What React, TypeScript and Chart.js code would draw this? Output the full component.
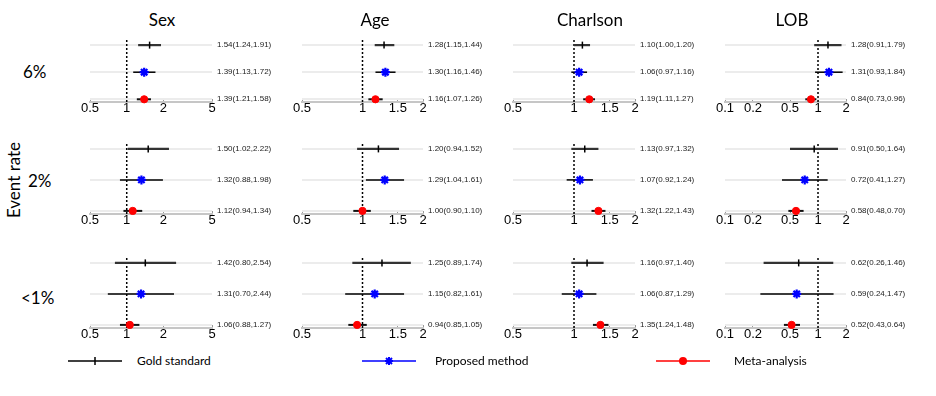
import React, { useEffect, useRef } from "react";
import { Chart, registerables } from "chart.js";

Chart.register(...registerables);

// ---------- data ----------
const COLUMN_TITLES = ["Sex", "Age", "Charlson", "LOB"];
const ROW_LABELS = ["6%", "2%", "<1%"];
const SERIES_NAMES = ["Gold standard", "Proposed method", "Meta-analysis"];
const Y_AXIS_TITLE = "Event rate";

// [estimate, lower, upper] for rows 6%, 2%, <1%
const SEX_GOLD = [[1.54, 1.24, 1.91], [1.50, 1.02, 2.22], [1.42, 0.80, 2.54]];
const SEX_PROPOSED = [[1.39, 1.13, 1.72], [1.32, 0.88, 1.98], [1.31, 0.70, 2.44]];
const SEX_META = [[1.39, 1.21, 1.58], [1.12, 0.94, 1.34], [1.06, 0.88, 1.27]];

const AGE_GOLD = [[1.28, 1.15, 1.44], [1.20, 0.94, 1.52], [1.25, 0.89, 1.74]];
const AGE_PROPOSED = [[1.30, 1.16, 1.46], [1.29, 1.04, 1.61], [1.15, 0.82, 1.61]];
const AGE_META = [[1.16, 1.07, 1.26], [1.00, 0.90, 1.10], [0.94, 0.85, 1.05]];

const CHARLSON_GOLD = [[1.10, 1.00, 1.20], [1.13, 0.97, 1.32], [1.16, 0.97, 1.40]];
const CHARLSON_PROPOSED = [[1.06, 0.97, 1.16], [1.07, 0.92, 1.24], [1.06, 0.87, 1.29]];
const CHARLSON_META = [[1.19, 1.11, 1.27], [1.32, 1.22, 1.43], [1.35, 1.24, 1.48]];

const LOB_GOLD = [[1.28, 0.91, 1.79], [0.91, 0.50, 1.64], [0.62, 0.26, 1.46]];
const LOB_PROPOSED = [[1.31, 0.93, 1.84], [0.72, 0.41, 1.27], [0.59, 0.24, 1.47]];
const LOB_META = [[0.84, 0.73, 0.96], [0.58, 0.48, 0.70], [0.52, 0.43, 0.64]];

const SEX_TICKS = [0.5, 1, 2, 5];
const AGE_TICKS = [0.5, 1, 1.5, 2];
const CHARLSON_TICKS = [0.5, 1, 1.5, 2];
const LOB_TICKS = [0.1, 0.2, 0.5, 1, 2];

const REFERENCE_VALUE = 1;

const COLUMN_DATA = [
  { gold: SEX_GOLD, proposed: SEX_PROPOSED, meta: SEX_META, ticks: SEX_TICKS },
  { gold: AGE_GOLD, proposed: AGE_PROPOSED, meta: AGE_META, ticks: AGE_TICKS },
  { gold: CHARLSON_GOLD, proposed: CHARLSON_PROPOSED, meta: CHARLSON_META, ticks: CHARLSON_TICKS },
  { gold: LOB_GOLD, proposed: LOB_PROPOSED, meta: LOB_META, ticks: LOB_TICKS },
];

// ---------- layout / style ----------
const W = 936;
const H = 396;
const FONT = "Lato, 'Open Sans', sans-serif";
const SMALL_FONT = "'Liberation Sans', Arial, sans-serif";

const COL_LEFT = [90, 302, 513, 725];
const COL_RIGHT = [212, 423, 635, 846];
const ROW_TOP = [37, 140, 254];
const ROW_BOTTOM = [102, 214, 328];
const Y_MIN = 0.9;
const Y_MAX = 3.2;
const PAD_L = 20;
const PAD_T = 4;
const X_AXIS_H = 24;
const Y_AXIS_W = 80;

const fmt = (t: number[]) => `${t[0].toFixed(2)}(${t[1].toFixed(2)},${t[2].toFixed(2)})`;

function Panel({ col, row }: { col: number; row: number }) {
  const ref = useRef<HTMLCanvasElement | null>(null);
  const plotW = COL_RIGHT[col] - COL_LEFT[col];
  const plotH = ROW_BOTTOM[row] - ROW_TOP[row];
  const cw = PAD_L + plotW + Y_AXIS_W;
  const ch = PAD_T + plotH + X_AXIS_H;
  const left = COL_LEFT[col] - PAD_L;
  const top = ROW_TOP[row] - PAD_T;

  useEffect(() => {
    const d = COLUMN_DATA[col];
    const gold = d.gold[row];
    const prop = d.proposed[row];
    const meta = d.meta[row];
    const ticks = d.ticks;
    // y positions: 3 = gold, 2 = proposed, 1 = meta
    const labels: Record<number, string> = { 3: fmt(gold), 2: fmt(prop), 1: fmt(meta) };

    const chart = new Chart(ref.current as HTMLCanvasElement, {
      type: "scatter",
      data: {
        datasets: [
          {
            data: [{ x: meta[0], y: 1 }],
            pointStyle: "circle",
            pointRadius: 3.6,
            backgroundColor: "#ff0000",
            borderColor: "#ff0000",
            borderWidth: 1,
            clip: false,
          },
          {
            data: [{ x: prop[0], y: 2 }],
            pointStyle: "star",
            pointRadius: 4.5,
            backgroundColor: "#0000ff",
            borderColor: "#0000ff",
            borderWidth: 2.2,
            clip: false,
          },
          {
            data: [{ x: gold[0], y: 3 }],
            pointStyle: "line",
            pointRotation: 90,
            pointRadius: 3.5,
            borderColor: "#000000",
            borderWidth: 1.5,
            clip: false,
          },
          {
            data: [{ x: meta[1], y: 1 }, { x: meta[2], y: 1 }],
            showLine: true,
            pointRadius: 0,
            borderColor: "#111111",
            borderWidth: 2,
            clip: false,
          },
          {
            data: [{ x: prop[1], y: 2 }, { x: prop[2], y: 2 }],
            showLine: true,
            pointRadius: 0,
            borderColor: "#000000",
            borderWidth: 1.5,
            clip: false,
          },
          {
            data: [{ x: gold[1], y: 3 }, { x: gold[2], y: 3 }],
            showLine: true,
            pointRadius: 0,
            borderColor: "#333333",
            borderWidth: 2.2,
            clip: false,
          },
          {
            data: [{ x: REFERENCE_VALUE, y: Y_MIN }, { x: REFERENCE_VALUE, y: Y_MAX }],
            showLine: true,
            pointRadius: 0,
            borderColor: "#000000",
            borderWidth: 1.5,
            borderDash: [2, 2],
            clip: false,
          },
        ] as any,
      },
      options: {
        responsive: false,
        animation: false,
        events: [],
        layout: { padding: { left: PAD_L, top: PAD_T, right: 0, bottom: 0 } },
        plugins: { legend: { display: false }, tooltip: { enabled: false } },
        scales: {
          x: {
            type: "logarithmic",
            position: "bottom",
            min: ticks[0],
            max: ticks[ticks.length - 1],
            afterBuildTicks: (s: any) => {
              s.ticks = ticks.map((v) => ({ value: v }));
            },
            afterFit: (s: any) => {
              s.height = X_AXIS_H;
              s.paddingLeft = 0;
              s.paddingRight = 0;
            },
            grid: {
              drawOnChartArea: false,
              drawTicks: true,
              tickLength: -3,
              tickColor: "#9a9a9a",
              lineWidth: 1,
            },
            border: { display: true, color: "#c6c6c6", width: 2 },
            ticks: {
              autoSkip: false,
              maxRotation: 0,
              minRotation: 0,
              padding: 2,
              color: "#000000",
              font: { family: SMALL_FONT, size: 13 },
              callback: (v: any) => String(v),
            },
          },
          y: {
            type: "linear",
            position: "right",
            min: Y_MIN,
            max: Y_MAX,
            afterBuildTicks: (s: any) => {
              s.ticks = [1, 2, 3].map((v) => ({ value: v }));
            },
            afterFit: (s: any) => {
              s.width = Y_AXIS_W;
              s.paddingTop = 0;
              s.paddingBottom = 0;
            },
            grid: { color: "#ececec", lineWidth: 2, drawTicks: false },
            border: { display: false },
            ticks: {
              autoSkip: false,
              padding: 5,
              color: "#222222",
              font: { family: SMALL_FONT, size: 8 },
              callback: (v: any) => labels[v as number] ?? "",
            },
          },
        } as any,
      },
    });
    return () => chart.destroy();
  }, [col, row]);

  return (
    <canvas
      ref={ref}
      width={cw}
      height={ch}
      style={{ position: "absolute", left, top, width: cw, height: ch }}
    />
  );
}

const TITLE_X = [162, 375, 590, 792];
const TITLE_Y = 19;
const ROW_LABEL_X = [23, 28, 21];
const ROW_LABEL_Y = [71, 180, 297];
const LEGEND_Y = 361;
const LEGEND_LINE_X = [68, 362, 656];
const LEGEND_TEXT_X = [137, 435, 734];

function Text({ x, y, children, size, anchor = "center", rotate = 0 }: any) {
  const tx = anchor === "center" ? "-50%" : "0";
  return (
    <div
      style={{
        position: "absolute",
        left: x,
        top: y,
        transform: `translate(${tx}, -50%) rotate(${rotate}deg)`,
        fontFamily: FONT,
        fontSize: size,
        lineHeight: 1,
        color: "#000",
        whiteSpace: "nowrap",
      }}
    >
      {children}
    </div>
  );
}

function LegendGlyph({ i }: { i: number }) {
  const colors = ["#000000", "#0000ff", "#ff0000"];
  const c = colors[i];
  const w = 54;
  const mid = 27;
  return (
    <svg
      width={w}
      height={12}
      style={{ position: "absolute", left: LEGEND_LINE_X[i], top: LEGEND_Y - 6 }}
    >
      <line x1={0} y1={6} x2={w} y2={6} stroke={c} strokeWidth={1.6} />
      {i === 0 && <line x1={mid} y1={2} x2={mid} y2={10} stroke={c} strokeWidth={1.5} />}
      {i === 1 && (
        <g stroke={c} strokeWidth={2}>
          <line x1={mid - 4} y1={6} x2={mid + 4} y2={6} />
          <line x1={mid} y1={2} x2={mid} y2={10} />
          <line x1={mid - 3} y1={3} x2={mid + 3} y2={9} />
          <line x1={mid - 3} y1={9} x2={mid + 3} y2={3} />
        </g>
      )}
      {i === 2 && <circle cx={mid} cy={6} r={4} fill={c} />}
    </svg>
  );
}

export default function App() {
  const panels = [];
  for (let r = 0; r < 3; r++) {
    for (let c = 0; c < 4; c++) {
      panels.push(<Panel key={`${r}-${c}`} col={c} row={r} />);
    }
  }
  return (
    <div
      style={{
        position: "absolute",
        left: 0,
        top: 0,
        width: W,
        height: H,
        background: "#ffffff",
        overflow: "hidden",
      }}
    >
      {panels}
      {COLUMN_TITLES.map((t, i) => (
        <Text key={t} x={TITLE_X[i]} y={TITLE_Y} size={17}>
          {t}
        </Text>
      ))}
      {ROW_LABELS.map((t, i) => (
        <Text key={t} x={ROW_LABEL_X[i]} y={ROW_LABEL_Y[i]} size={17} anchor="left">
          {t}
        </Text>
      ))}
      <Text x={12.5} y={180} size={17} rotate={-90}>
        {Y_AXIS_TITLE}
      </Text>
      {SERIES_NAMES.map((s, i) => (
        <React.Fragment key={s}>
          <LegendGlyph i={i} />
          <Text x={LEGEND_TEXT_X[i]} y={LEGEND_Y} size={12} anchor="left">
            {s}
          </Text>
        </React.Fragment>
      ))}
    </div>
  );
}
